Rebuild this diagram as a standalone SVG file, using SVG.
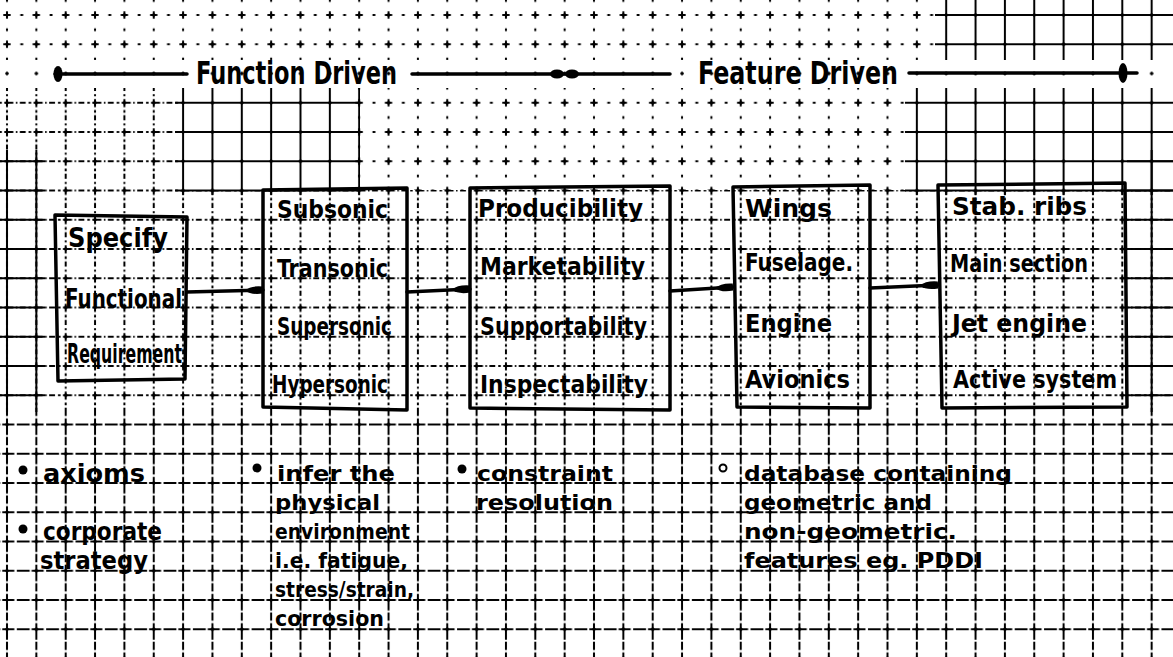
<svg xmlns="http://www.w3.org/2000/svg" width="1173" height="657" viewBox="0 0 1173 657">
  <style>
    .t { font-family: "DejaVu Sans Condensed", "DejaVu Sans", "Liberation Sans", sans-serif; font-weight: bold; fill: #000; }
    .title { font-size: 32px; }
    .lbl { font-size: 24px; }
    .big { font-size: 26px; }
    .note { font-size: 25px; }
    .small { font-size: 22px; }
    .box { fill: none; stroke: #000; stroke-width: 3.5; stroke-linejoin: round; }
    .conn { fill: none; stroke: #000; stroke-width: 3.5; stroke-linecap: round; }
    .gl { fill: none; stroke: #000; stroke-width: 2; }
  </style>
  <defs>
    <!-- graph paper tiles: one cell each, grid lines through the tile centre -->
    <pattern id="gDots" patternUnits="userSpaceOnUse" x="-7.675" y="0.375" width="29.35" height="29.25">
      <path class="gl" d="M13 14.625 H16.4 M14.675 13 V16.3"/>
    </pattern>
    <pattern id="gSparse" patternUnits="userSpaceOnUse" x="-7.675" y="0.375" width="29.35" height="29.25">
      <path class="gl" d="M11 14.625 H18.3 M14.675 11 V18.3 M0 14.625 H1.5 M28 14.625 H29.35 M14.675 0 V1.5 M14.675 28 V29.25"/>
    </pattern>
    <pattern id="gDash" patternUnits="userSpaceOnUse" x="-7.675" y="0.375" width="29.35" height="29.25">
      <path class="gl" d="M0 14.625 H4 M7 14.625 H9.5 M12 14.625 H21 M23.5 14.625 H25 M27.5 14.625 H29.35 M14.675 0 V3 M14.675 6 V8 M14.675 11 V19 M14.675 22 V24.5 M14.675 27 V29.25"/>
    </pattern>
    <pattern id="gLong" patternUnits="userSpaceOnUse" x="-7.675" y="0.375" width="29.35" height="29.25">
      <path class="gl" d="M0 14.625 H8 M10 14.625 H22 M24.5 14.625 H29.35 M14.675 0 V6 M14.675 8.5 V25 M14.675 27 V29.25"/>
    </pattern>
    <pattern id="gSolid" patternUnits="userSpaceOnUse" x="-7.675" y="0.375" width="29.35" height="29.25">
      <path class="gl" d="M0 14.625 H29.35 M14.675 0 V29.25"/>
    </pattern>
    <!-- hand-drawn arrow blob at the end of each connector -->
    <marker id="blob" markerUnits="userSpaceOnUse" markerWidth="20" markerHeight="12" viewBox="0 0 20 12" refX="19" refY="6" orient="auto">
      <path d="M1 6 Q7 1 19 2.5 L19 9.5 Q7 11 1 6 Z" fill="#000"/>
    </marker>
  </defs>

  <rect width="1173" height="657" fill="#fff"/>

  <!-- graph paper -->
  <g id="grid">
    <rect x="0" y="0" width="1173" height="657" fill="url(#gDots)"/>
    <rect x="0" y="0" width="935" height="60" fill="url(#gSparse)"/>
    <rect x="355" y="88" width="550" height="102" fill="url(#gSparse)"/>
    <rect x="0" y="88" width="180" height="102" fill="url(#gDash)"/>
    <rect x="0" y="190" width="1173" height="222" fill="url(#gDash)"/>
    <rect x="0" y="412" width="1173" height="245" fill="url(#gLong)"/>
    <rect x="175" y="88" width="185" height="107" fill="url(#gSolid)"/>
    <rect x="935" y="0" width="238" height="60" fill="url(#gSolid)"/>
    <rect x="905" y="88" width="268" height="107" fill="url(#gSolid)"/>
    <rect x="0" y="150" width="45" height="262" fill="url(#gSolid)"/>
    <rect x="1127" y="150" width="46" height="262" fill="url(#gSolid)"/>
  </g>

  <!-- range bar across the top -->
  <g id="range">
    <path class="conn" d="M55 74 H187 M412 74 H670 M909 73 H1137"/>
    <ellipse cx="58" cy="74" rx="4.5" ry="8"/>
    <ellipse cx="557" cy="74" rx="7" ry="4.5"/>
    <ellipse cx="572" cy="74" rx="7" ry="4.5"/>
    <ellipse cx="1123" cy="73" rx="4.5" ry="10"/>
    <text class="t title" x="196" y="84" textLength="201" lengthAdjust="spacingAndGlyphs">Function Driven</text>
    <text class="t title" x="698" y="84" textLength="200" lengthAdjust="spacingAndGlyphs">Feature Driven</text>
  </g>

  <!-- connectors -->
  <g id="connectors">
    <path class="conn" d="M187 292 L263 290" marker-end="url(#blob)"/>
    <path class="conn" d="M407 292 L470 289" marker-end="url(#blob)"/>
    <path class="conn" d="M670 291 L733 287" marker-end="url(#blob)"/>
    <path class="conn" d="M870 288 L938 285" marker-end="url(#blob)"/>
  </g>

  <g id="node-requirements">
    <path class="box" d="M55 215 L187 217 L185 379 L58 381 Z"/>
    <text class="t big" x="68" y="247" textLength="100" lengthAdjust="spacingAndGlyphs">Specify</text>
    <text class="t big" x="65" y="308" textLength="117" lengthAdjust="spacingAndGlyphs">Functional</text>
    <text class="t big" x="67" y="363" textLength="115" lengthAdjust="spacingAndGlyphs">Requirement</text>
  </g>

  <g id="node-regimes">
    <path class="box" d="M263 190 L407 188 L407 410 L263 407 Z"/>
    <text class="t lbl" x="277" y="218" textLength="111" lengthAdjust="spacingAndGlyphs">Subsonic</text>
    <text class="t lbl" x="277" y="277" textLength="111" lengthAdjust="spacingAndGlyphs">Transonic</text>
    <text class="t lbl" x="277" y="335" textLength="115" lengthAdjust="spacingAndGlyphs">Supersonic</text>
    <text class="t lbl" x="272" y="393" textLength="116" lengthAdjust="spacingAndGlyphs">Hypersonic</text>
  </g>

  <g id="node-abilities">
    <path class="box" d="M470 188 L670 186 L670 410 L470 408 Z"/>
    <text class="t lbl" x="478" y="217" textLength="165" lengthAdjust="spacingAndGlyphs">Producibility</text>
    <text class="t lbl" x="480" y="275" textLength="165" lengthAdjust="spacingAndGlyphs">Marketability</text>
    <text class="t lbl" x="480" y="335" textLength="167" lengthAdjust="spacingAndGlyphs">Supportability</text>
    <text class="t lbl" x="480" y="393" textLength="168" lengthAdjust="spacingAndGlyphs">Inspectability</text>
  </g>

  <g id="node-features">
    <path class="box" d="M733 187 L870 185 L870 408 L737 407 Z"/>
    <text class="t lbl" x="745" y="217" textLength="87" lengthAdjust="spacingAndGlyphs">Wings</text>
    <text class="t lbl" x="745" y="271" textLength="108" lengthAdjust="spacingAndGlyphs">Fuselage.</text>
    <text class="t lbl" x="745" y="332" textLength="87" lengthAdjust="spacingAndGlyphs">Engine</text>
    <text class="t lbl" x="745" y="388" textLength="105" lengthAdjust="spacingAndGlyphs">Avionics</text>
  </g>

  <g id="node-parts">
    <path class="box" d="M938 185 L1125 183 L1127 407 L942 408 Z"/>
    <text class="t lbl" x="952" y="215" textLength="135" lengthAdjust="spacingAndGlyphs">Stab. ribs</text>
    <text class="t lbl" x="950" y="272" textLength="138" lengthAdjust="spacingAndGlyphs">Main section</text>
    <text class="t lbl" x="952" y="332" textLength="135" lengthAdjust="spacingAndGlyphs">Jet engine</text>
    <text class="t lbl" x="953" y="388" textLength="164" lengthAdjust="spacingAndGlyphs">Active system</text>
  </g>

  <!-- notes under the boxes -->
  <g id="note-axioms">
    <circle cx="23" cy="470" r="4.5"/>
    <text class="t note" x="43" y="482" textLength="102" lengthAdjust="spacingAndGlyphs">axioms</text>
    <circle cx="23" cy="529" r="4.5"/>
    <text class="t note" x="43" y="540" textLength="119" lengthAdjust="spacingAndGlyphs">corporate</text>
    <text class="t note" x="40" y="569" textLength="108" lengthAdjust="spacingAndGlyphs">strategy</text>
  </g>

  <g id="note-environment">
    <circle cx="257" cy="468" r="4.5"/>
    <text class="t small" x="277" y="481" textLength="118" lengthAdjust="spacingAndGlyphs">infer the</text>
    <text class="t small" x="275" y="510" textLength="105" lengthAdjust="spacingAndGlyphs">physical</text>
    <text class="t small" x="275" y="539" textLength="135" lengthAdjust="spacingAndGlyphs">environment</text>
    <text class="t small" x="275" y="568" textLength="133" lengthAdjust="spacingAndGlyphs">i.e. fatigue,</text>
    <text class="t small" x="275" y="597" textLength="139" lengthAdjust="spacingAndGlyphs">stress/strain,</text>
    <text class="t small" x="275" y="626" textLength="109" lengthAdjust="spacingAndGlyphs">corrosion</text>
  </g>

  <g id="note-constraint">
    <circle cx="462" cy="469" r="4.5"/>
    <text class="t small" x="477" y="481" textLength="136" lengthAdjust="spacingAndGlyphs">constraint</text>
    <text class="t small" x="476" y="510" textLength="137" lengthAdjust="spacingAndGlyphs">resolution</text>
  </g>

  <g id="note-database">
    <circle cx="723" cy="468" r="3.5" fill="none" stroke="#000" stroke-width="2"/>
    <text class="t small" x="744" y="481" textLength="268" lengthAdjust="spacingAndGlyphs">database containing</text>
    <text class="t small" x="744" y="510" textLength="188" lengthAdjust="spacingAndGlyphs">geometric and</text>
    <text class="t small" x="744" y="539" textLength="213" lengthAdjust="spacingAndGlyphs">non-geometric.</text>
    <text class="t small" x="744" y="568" textLength="239" lengthAdjust="spacingAndGlyphs">features  eg. PDDI</text>
  </g>
</svg>
